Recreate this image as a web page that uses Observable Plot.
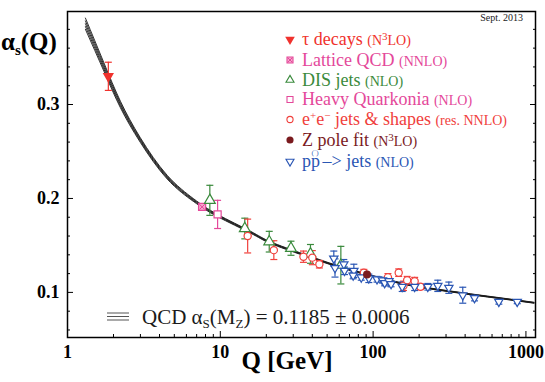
<!DOCTYPE html>
<html><head><meta charset="utf-8">
<script src="https://cdn.jsdelivr.net/npm/d3@7"></script>
<script src="https://cdn.jsdelivr.net/npm/@observablehq/plot@0.6"></script>
<style>body{margin:0;background:#fff;}</style>
</head><body><div id="chart"></div>
<script>
// ---- QCD running curve ----
const curveQ = [1.31, 1.73, 2.22, 3.0, 4.49, 6.71, 9.55, 15.8, 21.3, 35.2, 58.2, 96.1, 158.8, 262.7, 434, 716, 1127];
const curveA = [0.386, 0.340, 0.300, 0.262, 0.2227, 0.198, 0.182, 0.164, 0.153, 0.140, 0.128, 0.118, 0.109, 0.103, 0.098, 0.0933, 0.089];
const bandHalf = [0.006, 0.0045, 0.0035, 0.0025, 0.002, 0.0015, 0.0012, 0.001, 0.0009, 0.0008, 0.0007, 0.0006, 0.0006, 0.0005, 0.0005, 0.0005, 0.0005];

// ---- measurements ----
const tauQ = [1.85], tauA = [0.330], tauErr = [0.015];
const latQ = [7.6], latA = [0.191], latErr = [0.002];
const disQ = [8.54, 14.46, 20.9, 29.0, 38.9, 61.5];
const disA = [0.198, 0.168, 0.154, 0.147, 0.141, 0.129];
const disErr = [0.016, 0.011, 0.011, 0.0075, 0.010, 0.020];
const hqQ = [9.6], hqA = [0.183], hqErr = [0.015];
const eeQ = [15.1, 22.4, 35.0, 40.0, 44.5, 87, 125, 147, 158, 167, 187, 204];
const eeA = [0.160, 0.145, 0.138, 0.137, 0.130, 0.121, 0.116, 0.121, 0.107, 0.113, 0.112, 0.106];
const eeErr = [0.018, 0.010, 0.006, 0.0075, 0.004, 0.0035, 0.004, 0.004, 0.005, 0.004, 0.004, 0.003];
const zQ = [91.2], zA = [0.119], zErr = [0.001];
const ppQ = [55.3, 56.3, 64.3, 65, 74.8, 74, 83.6, 93.7, 106, 115, 119, 127, 131, 155, 187, 228, 265, 313, 386, 461, 665, 877];
const ppA = [0.136, 0.126, 0.130, 0.123, 0.123, 0.118, 0.116, 0.115, 0.114, 0.113, 0.110, 0.112, 0.109, 0.106, 0.106, 0.106, 0.107, 0.105, 0.097, 0.094, 0.090, 0.090];
const ppErr = [0.008, 0.0097, 0.005, 0.004, 0.007, 0.0035, 0.003, 0.0045, 0.003, 0.003, 0.003, 0.003, 0.003, 0.005, 0.004, 0.0035, 0.006, 0.006, 0.0085, 0.003, 0.0025, 0.002];

// ---- ticks ----
const xLabelTicks = [1, 10, 100, 1000];
const xMajorTicks = [10, 100, 1000];
const xMinorTicks = [2,3,4,5,6,7,8,9,20,30,40,50,60,70,80,90,200,300,400,500,600,700,800,900];
const yLabelTicks = [0.1, 0.2, 0.3];
const yMinorTicks = [0.06,0.08,0.12,0.14,0.16,0.18,0.22,0.24,0.26,0.28,0.32,0.34,0.36,0.38];

// ---- legend ----
const legendColors = ["#f0322d", "#e4489a", "#3a8a3c", "#e4489a", "#f0403c", "#7a1a1e", "#2a56b4"];

const FONT = "'Liberation Serif', serif";
const C = {tau: legendColors[0], lat: legendColors[1], dis: legendColors[2], hq: legendColors[3], ee: legendColors[4], z: legendColors[5], pp: legendColors[6]};

const mk = (Q, A, E) => Q.map((q, i) => ({q, a: A[i], lo: A[i] - E[i], hi: A[i] + E[i]}));
const tau = mk(tauQ, tauA, tauErr), lat = mk(latQ, latA, latErr), dis = mk(disQ, disA, disErr),
      hq = mk(hqQ, hqA, hqErr), ee = mk(eeQ, eeA, eeErr), zp = mk(zQ, zA, zErr), pp = mk(ppQ, ppA, ppErr);

const cap = {draw(ctx) { ctx.moveTo(-3.5, 0); ctx.lineTo(3.5, 0); }};
function errMarks(data, color) {
  return [
    Plot.ruleX(data, {x: "q", y1: "lo", y2: "hi", stroke: color, strokeWidth: 1.2}),
    Plot.dot(data, {x: "q", y: "lo", symbol: cap, stroke: color, strokeWidth: 1.2}),
    Plot.dot(data, {x: "q", y: "hi", symbol: cap, stroke: color, strokeWidth: 1.2})
  ];
}

const bandLines = [-1, -0.5, 0, 0.5, 1].map(k =>
  Plot.line(curveQ.map((q, i) => ({q, a: curveA[i] + k * bandHalf[i]})),
    {x: "q", y: "a", curve: "natural", stroke: "#1a1a1a", strokeWidth: 0.9}));

const noText = () => "";
const chart = Plot.plot({
  width: 545, height: 382,
  marginLeft: 67, marginRight: 10, marginTop: 11, marginBottom: 45,
  x: {type: "log", domain: [1, 1155]},
  y: {domain: [0.052, 0.399]},
  style: {fontFamily: FONT, background: "white", color: "black"},
  marks: [
    ...bandLines,
    ...errMarks(tau, C.tau), ...errMarks(lat, C.lat), ...errMarks(dis, C.dis), ...errMarks(hq, C.hq),
    ...errMarks(ee, C.ee), ...errMarks(pp, C.pp),
    Plot.dot(tau, {x: "q", y: "a", symbol: "triangle", rotate: 180, r: 4.2, fill: C.tau}),
    Plot.dot(lat, {x: "q", y: "a", symbol: "square", r: 4, fill: "#f6a6cc", stroke: C.lat, strokeWidth: 1.2}),
    Plot.dot(lat, {x: "q", y: "a", symbol: "times", r: 2.5, stroke: C.lat, strokeWidth: 1}),
    Plot.dot(dis, {x: "q", y: "a", symbol: "triangle", r: 4, fill: "white", stroke: C.dis, strokeWidth: 1.2}),
    Plot.dot(hq, {x: "q", y: "a", symbol: "square", r: 4, fill: "white", stroke: C.hq, strokeWidth: 1.2}),
    Plot.dot(ee, {x: "q", y: "a", symbol: "circle", r: 3.6, fill: "white", stroke: C.ee, strokeWidth: 1.2}),
    Plot.dot(pp, {x: "q", y: "a", symbol: "triangle", rotate: 180, r: 3.1, fill: "white", stroke: C.pp, strokeWidth: 1.2}),
    Plot.dot(zp, {x: "q", y: "a", symbol: "circle", r: 4, fill: C.z}),
    Plot.axisX({ticks: xLabelTicks, anchor: "bottom", tickSize: 0, tickPadding: 8, tickFormat: d => String(d), fontSize: 18, fontWeight: "bold", label: null}),
    Plot.axisX({ticks: xMajorTicks, anchor: "bottom", tickSize: -6, tickFormat: noText, label: null}),
    Plot.axisX({ticks: xMinorTicks, anchor: "bottom", tickSize: -3, tickFormat: noText, label: null}),
    Plot.axisY({ticks: yLabelTicks, anchor: "left", tickSize: 0, tickPadding: 8, tickFormat: d => d.toFixed(1), fontSize: 18, fontWeight: "bold", label: null}),
    Plot.axisY({ticks: yLabelTicks, anchor: "left", tickSize: -6, tickFormat: noText, label: null}),
    Plot.axisY({ticks: yMinorTicks, anchor: "left", tickSize: -3, tickFormat: noText, label: null}),
    Plot.axisY({ticks: yLabelTicks, anchor: "right", tickSize: -6, tickFormat: noText, label: null}),
    Plot.axisY({ticks: yMinorTicks, anchor: "right", tickSize: -3, tickFormat: noText, label: null}),
    Plot.frame({stroke: "black", strokeWidth: 1.5})
  ]
});
document.getElementById("chart").appendChild(chart);

// ---- annotations ----
const svg = d3.select(chart);
function rich(x, y, parts, color, anchor = "start", weight = "normal") {
  const t = svg.append("text").attr("x", x).attr("y", y).attr("fill", color)
    .attr("font-family", FONT).attr("font-weight", weight).attr("text-anchor", anchor);
  let shift = 0;
  for (const [txt, size, s = 0, dx = 0] of parts) {
    const ts = t.append("tspan").attr("font-size", size).attr("dy", s - shift).text(txt);
    if (dx) ts.attr("dx", dx);
    shift = s;
  }
  return t;
}

// legend rows
const rowY = [39.5, 60, 80, 99.5, 119.5, 140, 161.5];
const legendParts = [
  [["τ decays ", 18], ["(N", 14], ["3", 11, -5], ["LO)", 14]],
  [["Lattice QCD ", 18], ["(NNLO)", 14]],
  [["DIS jets ", 18], ["(NLO)", 14]],
  [["Heavy Quarkonia ", 18], ["(NLO)", 14]],
  [["e", 18], ["+", 11, -6], ["e", 18], ["−", 11, -6], [" jets & shapes ", 18], ["(res. NNLO)", 14]],
  [["Z pole fit ", 18], ["(N", 14], ["3", 11, -5], ["LO)", 14]],
  [["pp", 18], ["(‾)", 7, -12, -8.5], [" –> jets ", 18, 0, -0.5], ["(NLO)", 14]]
];
const symX = 290;
const sym = (type, size) => d3.symbol().type(type).size(size)();
rowY.forEach((y, i) => {
  const col = legendColors[i];
  const g = svg.append("g").attr("transform", `translate(${symX},${y})`);
  if (i === 0) g.append("path").attr("d", sym(d3.symbolTriangle, 40)).attr("transform", "rotate(180)").attr("fill", col);
  if (i === 1) { g.append("path").attr("d", sym(d3.symbolSquare, 36)).attr("fill", "#f6a6cc").attr("stroke", col).attr("stroke-width", 1.1);
                 g.append("path").attr("d", sym(d3.symbolTimes, 14)).attr("stroke", col).attr("fill", "none"); }
  if (i === 2) g.append("path").attr("d", sym(d3.symbolTriangle, 28)).attr("fill", "white").attr("stroke", col).attr("stroke-width", 1.1);
  if (i === 3) g.append("path").attr("d", sym(d3.symbolSquare, 36)).attr("fill", "white").attr("stroke", col).attr("stroke-width", 1.1);
  if (i === 4) g.append("path").attr("d", sym(d3.symbolCircle, 30)).attr("fill", "white").attr("stroke", col).attr("stroke-width", 1.1);
  if (i === 5) g.append("path").attr("d", sym(d3.symbolCircle, 40)).attr("fill", col);
  if (i === 6) g.append("path").attr("d", sym(d3.symbolTriangle, 28)).attr("transform", "rotate(180)").attr("fill", "white").attr("stroke", col).attr("stroke-width", 1.1);
  rich(302, y + 5.5, legendParts[i], col);
});

// date
svg.append("text").attr("x", 523).attr("y", 21).attr("font-family", FONT).attr("font-size", 10)
  .attr("text-anchor", "end").attr("fill", "#222").text("Sept. 2013");

// QCD band key
[313, 316.5, 320].forEach(y => svg.append("line").attr("x1", 107).attr("x2", 129).attr("y1", y).attr("y2", y)
  .attr("stroke", "#555").attr("stroke-width", 1));
rich(142, 324, [["QCD α", 21], ["S", 13, 4], ["(M", 21, 0], ["Z", 13, 4], [") = 0.1185 ± 0.0006", 21, 0]], "#1a1a1a");

// axis titles
rich(1, 50, [["α", 25], ["s", 15, 5], ["(Q)", 25, 0]], "black", "start", "bold");
rich(287, 369, [["Q [GeV]", 25]], "black", "middle", "bold");
</script></body></html>
